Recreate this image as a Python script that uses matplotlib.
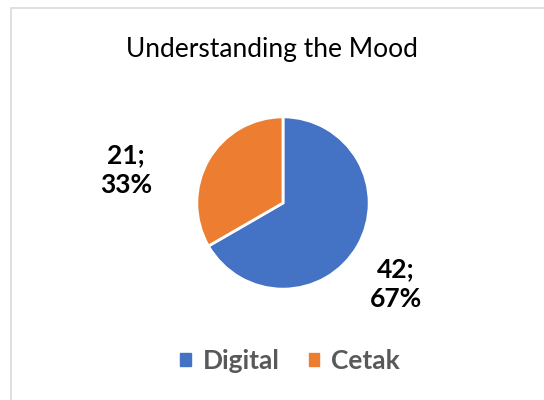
import matplotlib.pyplot as plt
from matplotlib.patches import Rectangle

labels = ['Digital', 'Cetak']
counts = [42, 21]
colors = ['#4472C4', '#ED7D31']
title = 'Understanding the Mood'

plt.rcParams['font.family'] = ['Lato', 'DejaVu Sans']

W, H = 544, 400
fig = plt.figure(figsize=(W / 100, H / 100), dpi=100)

# light frame of the chart area (runs off the right and bottom edge)
fig.patches.append(Rectangle((11 / W, -0.1), 1.2, (H - 8) / H + 0.1, transform=fig.transFigure,
                             fill=False, edgecolor='#D9D9D9', linewidth=1.2))

cx, cy, r = 283, 203, 87  # pixels, from the top-left
ax = fig.add_axes([(cx - r) / W, (H - cy - r) / H, 2 * r / W, 2 * r / H])
ax.pie(counts, colors=colors, startangle=90, counterclock=False,
       wedgeprops=dict(edgecolor='white', linewidth=2))
ax.set_xlim(-1.01, 1.01)
ax.set_ylim(-1.01, 1.01)
ax.set_aspect('equal')

fig.text(0.5, 1 - 50 / H, title, ha='center', va='center', fontsize=19, color='black')

total = sum(counts)
label_pos = [(396, 284), (126, 170)]  # pixel spots for the data labels
for v, (px, py) in zip(counts, label_pos):
    fig.text(px / W, 1 - py / H, f'{v};\n{round(100 * v / total)}%', ha='center', va='center',
             fontsize=19, fontweight='bold', color='black', linespacing=1.3)

handles = [Rectangle((0, 0), 1, 1, color=c) for c in colors]
fig.legend(handles, labels, loc='center', bbox_to_anchor=(290 / W, 1 - 361 / H), ncol=2,
           frameon=False, handlelength=0.4, handleheight=0.4, handletextpad=0.45, columnspacing=1.1,
           prop=dict(size=19, weight='bold'), labelcolor='#595959')

fig.savefig('out.png', dpi=100)
